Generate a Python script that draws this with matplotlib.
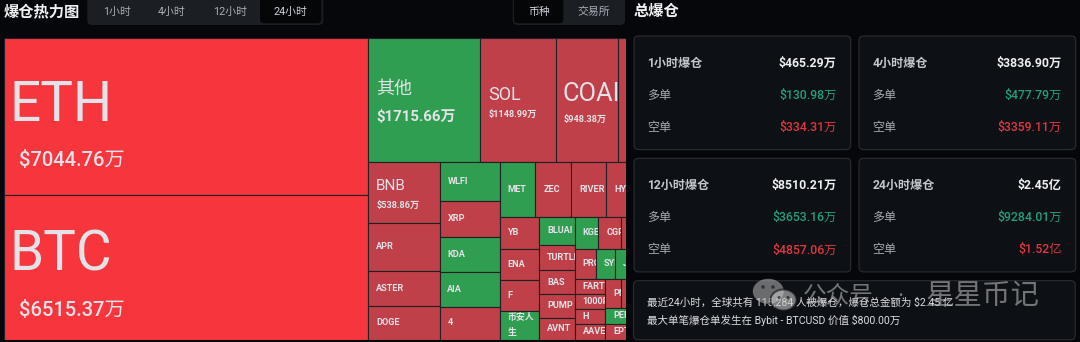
import matplotlib
matplotlib.use('Agg')
import matplotlib.pyplot as plt
from matplotlib.patches import Rectangle, FancyBboxPatch, Ellipse, Circle

plt.rcParams['font.family'] = ['Roboto', 'Noto Sans CJK SC', 'DejaVu Sans']

# ---------------- data ----------------
coins = ['ETH', 'BTC', '其他', 'SOL', 'COAI', 'XPL',
         'BNB', 'APR', 'ASTER', 'DOGE',
         'WLFI', 'XRP', 'KDA', 'AIA', '4',
         'MET', 'ZEC', 'RIVER', 'HYPE', 'SUI',
         'YB', 'ENA', 'F', '币安人生',
         'BLUAI', 'TURTLE', 'BAS', 'PUMP', 'AVNT',
         'KGEN', 'CGPT', 'LINK', 'ADA',
         'PROM', 'SYRUP', 'JTO', 'TRUMP', 'LTC',
         'FARTCOIN', '1000PEPE', 'H', 'AAVE',
         'PNUT', 'TAO', 'AVAX', 'ONDO',
         'PENGU', 'EPT', 'TIA', 'NEAR', 'WIF']
liq_values = [7044.76, 6515.37, 1715.66, 1148.99, 948.38, 682.0,
              538.86, 418.0, 309.0, 297.0,
              288.0, 268.0, 259.0, 257.0, 244.0,
              243.0, 242.9, 237.0, 200.0, 178.0,
              159.0, 150.5, 150.0, 140.0,
              124.0, 111.0, 104.0, 103.5, 95.0,
              93.4, 88.6, 82.0, 80.0,
              79.5, 69.5, 59.0, 58.5, 58.0,
              57.8, 57.5, 57.2, 57.0,
              56.8, 51.0, 50.5, 50.0,
              45.0, 45.0, 44.5, 44.0, 43.3]
dominant_side = ['S', 'S', 'L', 'S', 'S', 'S',
                 'S', 'S', 'S', 'S',
                 'L', 'S', 'L', 'L', 'S',
                 'L', 'S', 'S', 'S', 'S',
                 'S', 'S', 'S', 'L',
                 'L', 'S', 'S', 'S', 'S',
                 'L', 'S', 'S', 'S',
                 'S', 'L', 'L', 'S', 'S',
                 'S', 'S', 'S', 'S',
                 'S', 'S', 'S', 'S',
                 'L', 'S', 'S', 'S', 'S']

tabs = ['1小时', '4小时', '12小时', '24小时']
active_tab = '24小时'
groups = ['币种', '交易所']
active_group = '币种'

card_periods = ['1小时', '4小时', '12小时', '24小时']
card_total = [465.29, 3836.90, 8510.21, 24500.0]      # 万美元
card_long = [130.98, 477.79, 3653.16, 9284.01]
card_short = [334.31, 3359.11, 4857.06, 15200.0]

liquidated_people = 115284
largest_exchange = 'Bybit'
largest_symbol = 'BTCUSD'
largest_value = 800.00


def fmt_money(v):
    if v >= 10000:
        return f'${v / 10000:.2f}亿'
    return f'${v:.2f}万'


# ---------------- squarified treemap (echarts style) ----------------
def squarify(values, x, y, w, h, ratio=0.5 * (1 + 5 ** 0.5)):
    total = float(sum(values))
    areas = [v / total * w * h for v in values]
    rects = [None] * len(values)
    state = {'x': x, 'y': y, 'w': w, 'h': h}

    def worst(row, row_area, L):
        amax = max(areas[j] for j in row)
        amin = min(areas[j] for j in row)
        s2 = row_area * row_area
        f = L * L * ratio
        return max(f * amax / s2, s2 / (f * amin))

    def position(row, row_area, L, flush):
        horizontal = (L == state['w'])
        other = row_area / L if L else 0
        if horizontal:
            if flush or other > state['h']:
                other = state['h']
            last = state['x']
            for k, j in enumerate(row):
                step = areas[j] / other if other else 0
                remain = state['x'] + state['w'] - last
                mod = remain if (k == len(row) - 1 or remain < step) else step
                rects[j] = (last, state['y'], mod, other)
                last += mod
            state['y'] += other
            state['h'] -= other
        else:
            if flush or other > state['w']:
                other = state['w']
            last = state['y']
            for k, j in enumerate(row):
                step = areas[j] / other if other else 0
                remain = state['y'] + state['h'] - last
                mod = remain if (k == len(row) - 1 or remain < step) else step
                rects[j] = (state['x'], last, other, mod)
                last += mod
            state['x'] += other
            state['w'] -= other

    L = min(state['w'], state['h'])
    row, row_area, best = [], 0.0, float('inf')
    i = 0
    while i < len(values):
        row.append(i)
        row_area += areas[i]
        score = worst(row, row_area, L)
        if score <= best:
            i += 1
            best = score
        else:
            row.pop()
            row_area -= areas[i]
            position(row, row_area, L, False)
            L = min(state['w'], state['h'])
            row, row_area, best = [], 0.0, float('inf')
    if row:
        position(row, row_area, L, True)
    return rects


# ---------------- styles ----------------
BG = '#05070b'
EDGE = '#1f2024'
CELL_COLORS = {'S': '#bf4049', 'L': '#2f9e51'}
HOT_COLORS = {'ETH': '#f6353c', 'BTC': '#f6353c'}
CELL_TXT = '#e2e2e8'
# name size, value size, name dy, value dy, name pad, value pad, value weight
BIG_LABELS = {
    'ETH': (39.5, 14.5, 4.4, 49.7, 6.0, 14.8, 'medium'),
    'BTC': (39.5, 14.5, 3.1, 48.8, 6.0, 14.8, 'medium'),
    '其他': (13.0, 10.8, -6.4, 20.6, 7.8, 7.8, 'bold'),
    'SOL': (13.0, 6.6, -0.4, 16.9, 7.6, 8.0, 'bold'),
    'COAI': (18.3, 6.6, 1.3, 21.3, 7.2, 8.4, 'bold'),
    'XPL': (14.0, 6.6, 1.3, 21.3, 10.0, 10.0, 'bold'),
    'BNB': (11.0, 6.6, -2.3, 15.3, 7.3, 8.4, 'bold'),
}
WRAP_LABELS = {'币安人生': '币安人\n生'}
SMALL_PAD = 7.9

W_PX, H_PX = 1080, 342
fig = plt.figure(figsize=(W_PX / 100, H_PX / 100), dpi=100, facecolor=BG)

# ---------------- treemap ----------------
TM_X0, TM_Y0, TM_Y1 = 4.0, 38.3, 339.5
TM_FULL_W = 658.2
TM_VIS_X1 = 626.0
tm_h = TM_Y1 - TM_Y0
vis_w = TM_VIS_X1 - TM_X0
ax = fig.add_axes([TM_X0 / W_PX, 1 - TM_Y1 / H_PX, vis_w / W_PX, tm_h / H_PX])
ax.set_xlim(0, vis_w)
ax.set_ylim(tm_h, 0)
ax.axis('off')

rects = squarify(liq_values, 0, 0, TM_FULL_W, tm_h)
for name, v, side, (x, y, w, h) in zip(coins, liq_values, dominant_side, rects):
    fc = HOT_COLORS.get(name, CELL_COLORS[side])
    ax.add_patch(Rectangle((x, y), w, h, facecolor=fc, edgecolor=EDGE, linewidth=0.8))
    if x >= vis_w:
        continue
    clip = Rectangle((x, y), min(w, vis_w - x), h, transform=ax.transData)
    texts = []
    cy = y + h / 2
    if name in BIG_LABELS:
        ns, vs, ndy, vdy, npad, vpad, vw = BIG_LABELS[name]
        if x + npad < vis_w:
            texts.append(ax.text(x + npad, cy + ndy, name, fontsize=ns, color=CELL_TXT,
                                 ha='left', va='baseline'))
        if x + vpad < vis_w:
            texts.append(ax.text(x + vpad, cy + vdy, fmt_money(v), fontsize=vs, color=CELL_TXT,
                                 ha='left', va='baseline', fontweight=vw))
    elif x + SMALL_PAD < vis_w:
        if name in WRAP_LABELS:
            texts.append(ax.text(x + SMALL_PAD, cy, WRAP_LABELS[name], fontsize=6.4,
                                 color=CELL_TXT, ha='left', va='center',
                                 fontweight='bold', linespacing=1.9))
        else:
            texts.append(ax.text(x + SMALL_PAD, cy + 2.3, name, fontsize=6.6, color=CELL_TXT,
                                 ha='left', va='baseline', fontweight='bold'))
    for t in texts:
        t.set_clip_path(clip)
        t.set_clip_on(True)

# ---------------- overlay UI ----------------
ov = fig.add_axes([0, 0, 1, 1])
ov.set_xlim(0, W_PX)
ov.set_ylim(H_PX, 0)
ov.axis('off')


def rbox(x, y, w, h, r, fc, ec='none', lw=0.0, z=1):
    ov.add_patch(FancyBboxPatch((x, y), w, h, boxstyle=f'round,pad=0,rounding_size={r}',
                                facecolor=fc, edgecolor=ec, linewidth=lw, zorder=z))


TITLE_C = '#f0f1f3'
ov.text(3.5, 12, '爆仓热力图', fontsize=11, fontweight='bold', color=TITLE_C, va='center')

GROUP_FC = '#1b1e23'
ACTIVE_FC = '#050608'
rbox(87.3, -8, 236, 33, 5, GROUP_FC)
TAB_CX = [117, 171.5, 230, 290.5]
for label, cx in zip(tabs, TAB_CX):
    if label == active_tab:
        rbox(cx - 30.5, -8, 61.4, 31.3, 4, ACTIVE_FC, z=2)
    ov.text(cx, 11.5, label, fontsize=7.8, ha='center', va='center', zorder=3,
            color='#cdd1d8' if label == active_tab else '#a9aeb7')

rbox(512.7, -8, 112.3, 33, 5, GROUP_FC)
GROUP_CX = [538.7, 593.3]
for label, cx in zip(groups, GROUP_CX):
    if label == active_group:
        rbox(514, -8, 49.3, 31.3, 4, ACTIVE_FC, z=2)
    ov.text(cx, 11.5, label, fontsize=7.8, ha='center', va='center', zorder=3,
            color='#cdd1d8' if label == active_group else '#a9aeb7')

ov.text(634, 12, '总爆仓', fontsize=11, fontweight='bold', color=TITLE_C, va='center')

CARD_FC = '#0d1015'
CARD_EC = '#2a2d33'
GREEN = '#1fa07d'
RED = '#e1373f'
CARD_POS = [(634, 36.0), (859, 36.0), (634, 158.3), (859, 158.3)]
CARD_W, CARD_H = 216.7, 113.6
ROW_DY = [27.4, 59.5, 91.6]
for (cx, cy), period, tot, lg, sh in zip(CARD_POS, card_periods, card_total, card_long, card_short):
    rbox(cx, cy, CARD_W, CARD_H, 4.5, CARD_FC, CARD_EC, 0.8)
    lx, rx = cx + 13.5, cx + CARD_W - 14
    ov.text(lx, cy + ROW_DY[0], f'{period}爆仓', fontsize=8.7, fontweight='bold',
            color='#c3c6cc', va='center', zorder=3)
    ov.text(rx, cy + ROW_DY[0], fmt_money(tot), fontsize=8.8, fontweight='bold',
            color='#eeeff1', ha='right', va='center', zorder=3)
    ov.text(lx, cy + ROW_DY[1], '多单', fontsize=8.7, color='#a9acb3', va='center', zorder=3)
    ov.text(rx, cy + ROW_DY[1], fmt_money(lg), fontsize=8.8, fontweight='medium',
            color=GREEN, ha='right', va='center', zorder=3)
    ov.text(lx, cy + ROW_DY[2], '空单', fontsize=8.7, color='#a9acb3', va='center', zorder=3)
    ov.text(rx, cy + ROW_DY[2], fmt_money(sh), fontsize=8.8, fontweight='medium',
            color=RED, ha='right', va='center', zorder=3)

rbox(633.5, 280.7, 441.7, 59, 4.5, CARD_FC, CARD_EC, 0.8)
line1 = (f'最近24小时，全球共有 {liquidated_people:,} 人被爆仓，爆仓总金额为 '
         f'${card_total[3] / 10000:.2f} 亿')
line2 = (f'最大单笔爆仓单发生在 {largest_exchange} - {largest_symbol} 价值 '
         f'{fmt_money(largest_value)}')
ov.text(647, 302, line1, fontsize=7.6, color='#dcdde1', va='center', zorder=3)
ov.text(647, 320.3, line2, fontsize=7.6, color='#dcdde1', va='center', zorder=3)

# watermark
WM = '#c8c8c8'
ov.add_patch(Ellipse((768.3, 291.3), 31, 25, facecolor=WM, alpha=0.5, zorder=10))
ov.add_patch(Ellipse((783.5, 300.0), 26, 21, facecolor=WM, edgecolor=CARD_FC,
                     linewidth=1.5, alpha=0.6, zorder=11))
for ex, ey in [(763, 287), (773, 287)]:
    ov.add_patch(Circle((ex, ey), 1.8, facecolor='#1a1c20', alpha=0.7, zorder=12))
for ex, ey in [(779, 297.5), (788, 297.5)]:
    ov.add_patch(Circle((ex, ey), 1.5, facecolor='#1a1c20', alpha=0.7, zorder=12))
ov.text(803, 297, '公众号', fontsize=17, color=WM, alpha=0.55, va='center', zorder=10)
ov.text(897, 297, '·', fontsize=17, color=WM, alpha=0.55, va='center', zorder=10)
ov.text(926, 297, '星星币记', fontsize=20.5, color=WM, alpha=0.55, va='center', zorder=10)

fig.savefig('out.png', dpi=100, facecolor=BG)
